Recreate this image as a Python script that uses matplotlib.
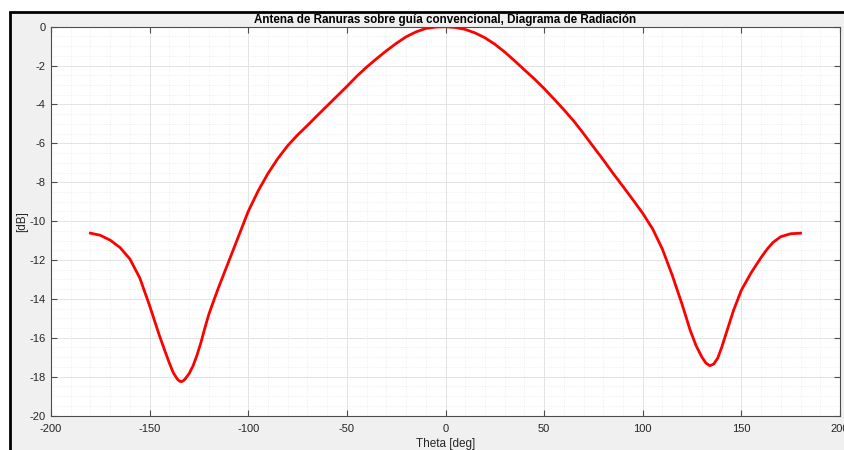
import matplotlib.pyplot as plt
import matplotlib.patches as mpatches
from matplotlib.ticker import MultipleLocator

# Radiation pattern
theta = [-180, -175, -170, -165, -160, -155, -150, -145, -142, -140, -138, -136,
         -135, -134, -133, -132, -130, -128, -126, -124, -122, -120, -117, -115,
         -110, -105, -100, -95, -90, -85, -80, -75, -70, -65, -60, -55, -50,
         -45, -40, -35, -30, -25, -20, -15, -10, -5, 0, 5, 10, 15, 20, 25, 30,
         35, 40, 45, 50, 55, 60, 65, 70, 75, 80, 85, 90, 95, 100, 105, 110,
         115, 120, 124, 127, 130, 132, 134, 136, 138, 140, 143, 146, 150, 155,
         160, 163, 166, 170, 175, 180]
gain_db = [-10.62, -10.73, -10.98, -11.36, -11.95, -12.92, -14.35, -15.9, -16.75, -17.3, -17.8, -18.12,
           -18.22, -18.26, -18.22, -18.12, -17.85, -17.45, -16.9, -16.25, -15.5, -14.8, -13.95, -13.4,
           -12.1, -10.8, -9.5, -8.45, -7.55, -6.78, -6.12, -5.57, -5.08, -4.57, -4.07, -3.57, -3.07,
           -2.55, -2.08, -1.65, -1.24, -0.86, -0.52, -0.27, -0.09, -0.02, 0.0, -0.04, -0.14, -0.32, -0.57, -0.9, -1.3,
           -1.75, -2.22, -2.68, -3.18, -3.72, -4.27, -4.85, -5.5, -6.18, -6.85, -7.55, -8.22, -8.9, -9.6, -10.4, -11.45,
           -12.8, -14.3, -15.6, -16.4, -17.0, -17.3, -17.44, -17.35, -17.05, -16.5, -15.55, -14.6, -13.55, -12.65,
           -11.87, -11.45, -11.1, -10.8, -10.65, -10.62]

x_ticks = [-200, -150, -100, -50, 0, 50, 100, 150, 200]
y_ticks = [-20, -18, -16, -14, -12, -10, -8, -6, -4, -2, 0]

plt.rcParams['font.family'] = ['Liberation Sans', 'DejaVu Sans']
plt.rcParams['axes.unicode_minus'] = False

fig = plt.figure(figsize=(8.44, 4.5), dpi=100, facecolor='white')

# window frame of the screenshot, kept behind the axes
frame = mpatches.Rectangle((10 / 844, -0.1), 1.1, (450 - 12) / 450 + 0.1,
                           transform=fig.transFigure, facecolor='#f0f0f0',
                           edgecolor='black', linewidth=2, zorder=-10)
fig.patches.append(frame)

ax = fig.add_axes([51 / 844, 34.5 / 450, 789 / 844, 388.8 / 450])
ax.set_facecolor('white')

ax.plot(theta, gain_db, color='#ff0000', linewidth=2, zorder=3)

ax.set_xlim(-200, 200)
ax.set_ylim(-20, 0)
ax.set_xticks(x_ticks)
ax.set_yticks(y_ticks)
ax.xaxis.set_minor_locator(MultipleLocator(10))
ax.yaxis.set_minor_locator(MultipleLocator(0.5))

ax.grid(True, which='major', color='#e3e3e3', linewidth=0.7, linestyle='-')
ax.grid(True, which='minor', color='#ebebeb', linewidth=0.6, linestyle=':')
ax.set_axisbelow(True)

ax.tick_params(which='major', direction='in', length=4, width=0.8, color='#4d4d4d',
               labelsize=8, labelcolor='#262626', top=True, right=True)
ax.tick_params(axis='x', which='major', pad=6)
ax.tick_params(axis='y', which='major', pad=4)
ax.tick_params(which='minor', length=0, top=True, right=True)
for s in ax.spines.values():
    s.set_color('#4d4d4d')
    s.set_linewidth(0.8)

ax.set_title('Antena de Ranuras sobre guía convencional, Diagrama de Radiación',
             fontsize=8.4, fontweight='bold', color='black', pad=3)
ax.set_xlabel('Theta [deg]', fontsize=8.5, color='#262626', labelpad=3)
ax.set_ylabel('[dB]', fontsize=8.5, color='#262626', labelpad=1)

fig.savefig('out.png', dpi=100, facecolor=fig.get_facecolor())
